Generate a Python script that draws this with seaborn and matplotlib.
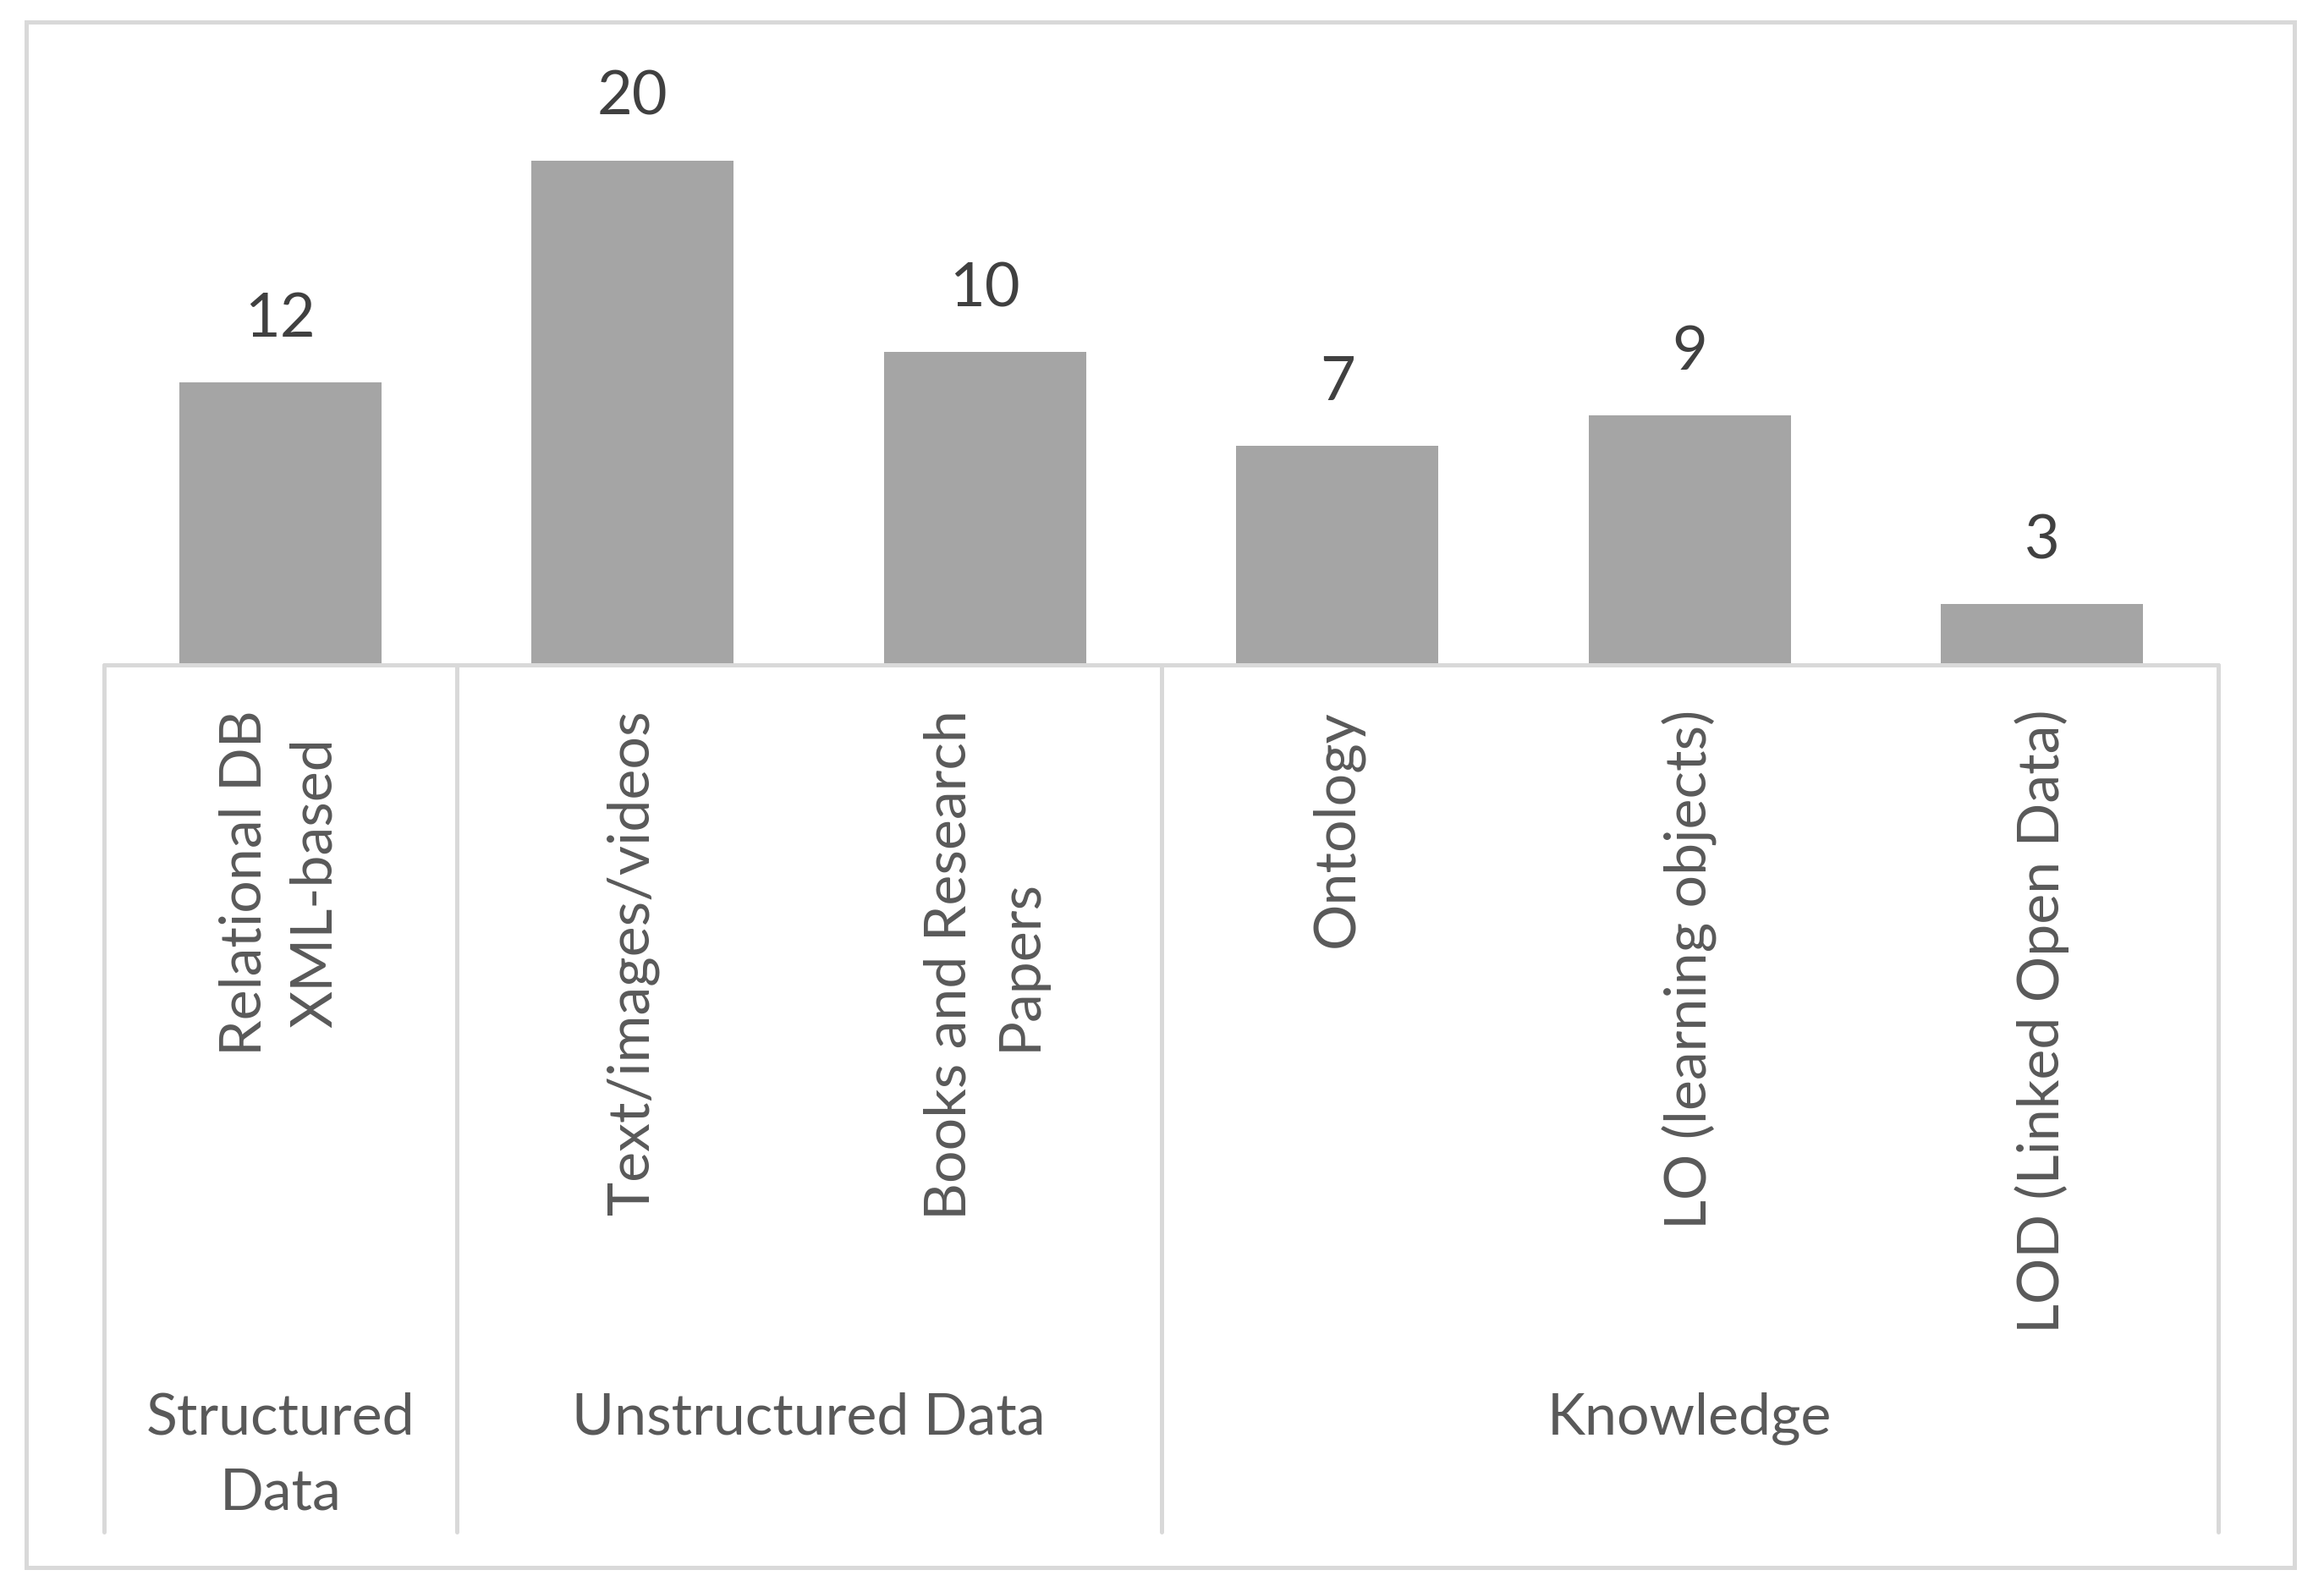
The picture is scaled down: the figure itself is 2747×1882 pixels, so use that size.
import matplotlib
matplotlib.use("Agg")
import matplotlib.pyplot as plt
import matplotlib.transforms as mtransforms
from matplotlib.lines import Line2D
from matplotlib.patches import Rectangle
import pandas as pd
import seaborn as sns

# data
sources = ["Relational DB\nXML-based", "Text/images/videos",
           "Books and Research\nPapers", "Ontology", "LO (learning objects)",
           "LOD (Linked Open Data)"]
bar_heights = [11.2, 20.0, 12.4, 8.7, 9.9, 2.4]
bar_labels = [12, 20, 10, 7, 9, 3]
groups = ["Structured\nData", "Unstructured Data", "Knowledge"]
group_sizes = [1, 2, 3]

W, H, DPI = 2747, 1882, 200
BAR = "#A5A5A5"
GRID = "#D9D9D9"
TXT = "#595959"
LAB = "#404040"


def px(v):
    # pixels -> points
    return v * 72.0 / DPI


def main():
    sns.set_theme(style="white")
    plt.rcParams['font.family'] = ['Lato', 'DejaVu Sans']

    df = pd.DataFrame({"Source": sources, "Count": bar_heights})

    fig = plt.figure(figsize=(W / DPI, H / DPI), dpi=DPI)
    ax_l, ax_r = 123, 2622
    base, top = 786, 40
    ax = fig.add_axes([ax_l / W, 1 - base / H, (ax_r - ax_l) / W,
                       (base - top) / H])

    sns.barplot(data=df, x="Source", y="Count", color=BAR, saturation=1,
                width=0.574, linewidth=0, ax=ax)
    ax.set_xlim(-0.5, len(sources) - 0.5)
    ax.set_ylim(0, 20 * (base - top) / (base - 190))
    ax.bar_label(ax.containers[0], labels=[str(v) for v in bar_labels],
                 padding=px(42), fontsize=26, color=LAB)

    for s in ax.spines.values():
        s.set_visible(False)
    ax.set_yticks([])
    ax.set_xlabel("")
    ax.set_ylabel("")
    ax.tick_params(axis="x", length=0, pad=px(53), labelsize=24.5,
                   labelcolor=TXT, labelrotation=90)
    for t in ax.get_xticklabels():
        t.set_multialignment("center")
        t.set_linespacing(1.42)

    # multi-level category table below the bars
    tr = mtransforms.blended_transform_factory(ax.transData, fig.transFigure)
    y_base = 1 - base / H
    y_low = 1 - 1811 / H
    fig.add_artist(Line2D([-0.5, len(sources) - 0.5], [y_base, y_base],
                          transform=tr, color=GRID, lw=px(5)))
    bounds = [-0.5]
    for n in group_sizes:
        bounds.append(bounds[-1] + n)
    for b in bounds:
        fig.add_artist(Line2D([b, b], [y_base, y_low], transform=tr,
                              color=GRID, lw=px(5)))
    for g, a, b in zip(groups, bounds[:-1], bounds[1:]):
        fig.text((a + b) / 2, 1 - 1645 / H, g, transform=tr, ha="center",
                 va="top", fontsize=24.5, color=TXT, linespacing=1.55,
                 multialignment="center")

    # outer chart border
    fig.add_artist(Rectangle((31 / W, 1 - 1853 / H), (2712 - 31) / W,
                             (1853 - 26) / H, transform=fig.transFigure,
                             fill=False, edgecolor=GRID, lw=px(5)))

    fig.savefig("out.png", dpi=DPI, facecolor="white")
    plt.close(fig)


if __name__ == '__main__':
    main()
